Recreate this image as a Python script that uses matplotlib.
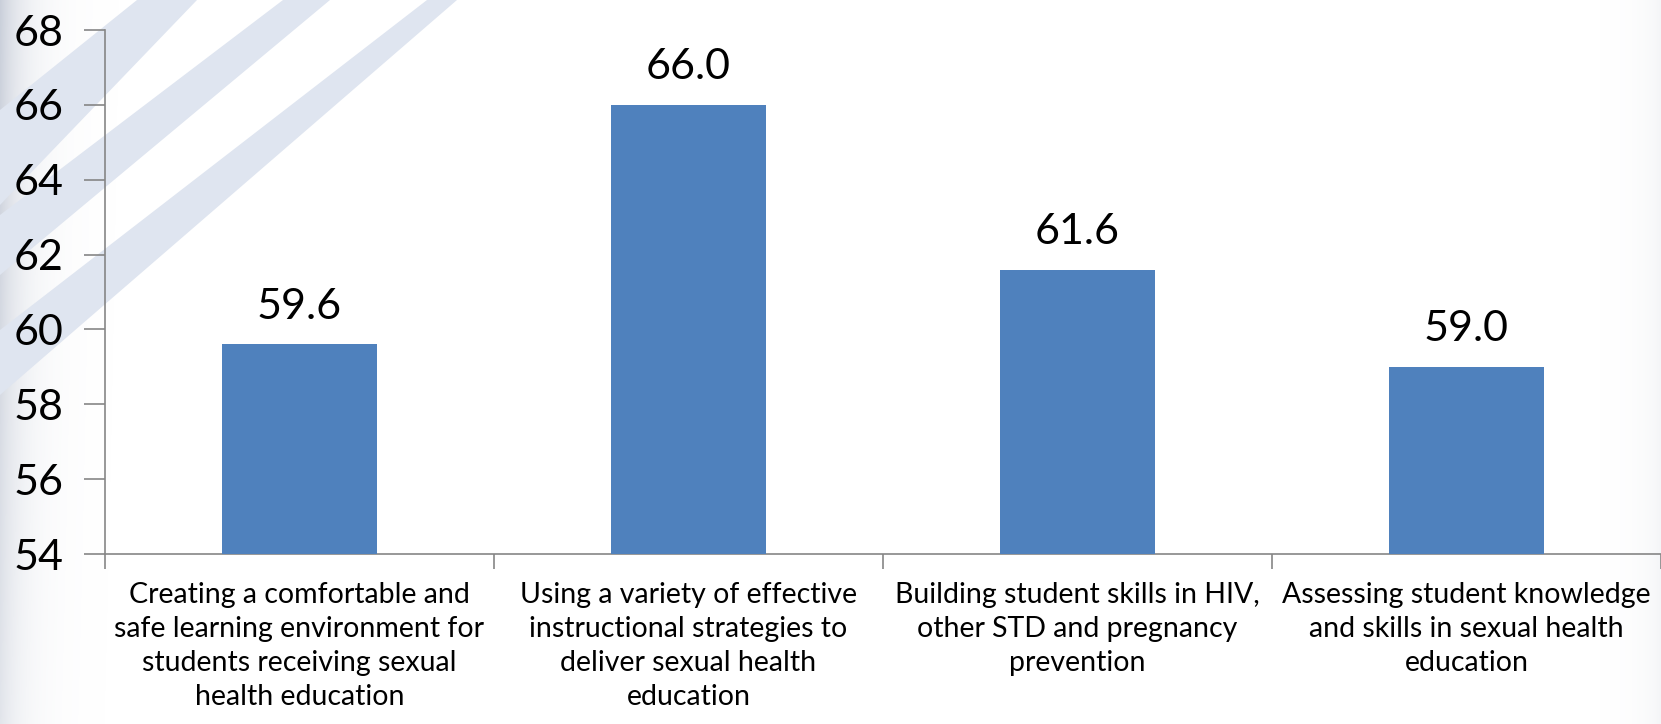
import numpy as np
import matplotlib.pyplot as plt
from matplotlib.patches import Polygon

plt.rcParams['font.family'] = ['Lato', 'DejaVu Sans']

# chart data
categories = [
    "Creating a comfortable and\nsafe learning environment for\nstudents receiving sexual\nhealth education",
    "Using a variety of effective\ninstructional strategies to\ndeliver sexual health\neducation",
    "Building student skills in HIV,\nother STD and pregnancy\nprevention",
    "Assessing student knowledge\nand skills in sexual health\neducation",
]
scores = [59.6, 66.0, 61.6, 59.0]
y_ticks = [54, 56, 58, 60, 62, 64, 66, 68]

W, H = 1661, 724
fig = plt.figure(figsize=(W / 100, H / 100), dpi=100)

# slide background: grey fades on the edges and pale diagonal bands
bg = fig.add_axes([0, 0, 1, 1], zorder=-10)
bg.set_xlim(0, W)
bg.set_ylim(H, 0)
bg.axis('off')
band_col = '#dfe5f0'
bands = [
    [(137, 0), (197, 0), (0, 205), (0, 110)],
    [(283, 0), (330, 0), (0, 275), (0, 215)],
    [(427, 0), (457, 0), (0, 395), (0, 330)],
]
for pts in bands:
    bg.add_patch(Polygon(pts, closed=True, facecolor=band_col, edgecolor='none'))

xs = np.arange(W)
ys = np.arange(H)[:, None]
# darker on the upper left, softer towards the bottom
left_amp = 0.55 - 0.25 * ys / H
shade = np.ones((H, W, 4))
shade[..., :3] = np.array([0.62, 0.66, 0.74])
shade[..., 3] = left_amp * np.exp(-xs / 24.0)
shade[..., 3] += 0.12 * np.exp(-(W - xs) / 18.0)
shade[..., 3] = np.clip(shade[..., 3], 0, 1)
bg.imshow(shade, extent=[0, W, H, 0], aspect='auto', interpolation='bilinear')

ax = fig.add_axes([105 / W, 1 - 554 / H, 1 - 105 / W, (554 - 30) / H])
ax.patch.set_alpha(0)

x = np.arange(len(categories))
ax.bar(x, scores, width=0.40, color='#4f81bd', zorder=3)
for xi, v in zip(x, scores):
    ax.text(xi, v + 0.5, f"{v:.1f}", ha='center', va='bottom', fontsize=31, color='black')

ax.set_xlim(-0.5, len(categories) - 0.5)
ax.set_ylim(54, 68)
ax.set_yticks(y_ticks)
ax.set_yticklabels([str(t) for t in y_ticks], fontsize=31)
ax.set_xticks(x)
ax.set_xticklabels(categories, fontsize=20.5, linespacing=1.38)
ax.set_xticks(np.arange(len(categories) + 1) - 0.5, minor=True)

for s in ['top', 'right']:
    ax.spines[s].set_visible(False)
for s in ['left', 'bottom']:
    ax.spines[s].set_color('#868686')
    ax.spines[s].set_linewidth(1.2)

ax.tick_params(axis='y', length=15, width=1.2, color='#868686', pad=15)
ax.tick_params(axis='x', which='major', length=0, pad=20)
ax.tick_params(axis='x', which='minor', length=11, width=1.2, color='#868686')

fig.savefig('out.png', dpi=100)
